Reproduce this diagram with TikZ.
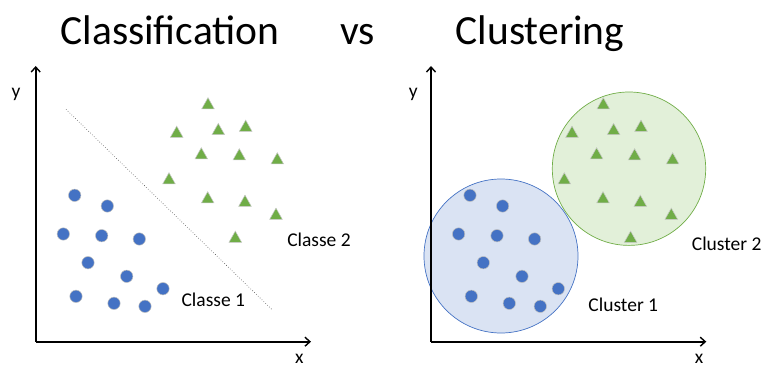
\documentclass[tikz,border=0pt]{standalone}
\usepackage{fontspec}
\setmainfont{Carlito}
\usetikzlibrary{arrows.meta}
\definecolor{dotblue}{HTML}{4472C4}
\definecolor{trigreen}{HTML}{70AD47}
\definecolor{blueFill}{HTML}{DAE3F3}
\definecolor{greenFill}{HTML}{E2F0D9}
\tikzset{
  axis/.style={line width=1.6pt,-{Straight Barb[length=5pt,width=9pt,line width=1.4pt]}},
  dotpt/.style={fill=dotblue,draw=white!75!black,line width=0.5pt},
  tript/.style={fill=trigreen,draw=white!78!black,line width=0.5pt},
  title/.style={font=\fontsize{41.5}{44}\selectfont,anchor=base,inner sep=0pt},
  lbl/.style={font=\fontsize{19.5}{22}\selectfont,anchor=base,inner sep=0pt},
}
\begin{document}
\begin{tikzpicture}[x=1pt,y=-1pt]
\useasboundingbox (0,0) rectangle (766,369);
% titles
\node[title] (t1) at (170,45) {Classification};
\node[title] (t2) at (357.5,45) {vs};
\node[title] (t3) at (540,45) {Clustering};
% right panel circles
\draw[draw=dotblue,fill=blueFill,line width=0.7pt] (501,256) circle (77);
\draw[draw=trigreen,fill=greenFill,line width=0.7pt] (629,168.7) circle (76.7);
% separating line
\draw[dotted,line width=0.6pt,black!70] (66,109.3) -- (271.7,309.3);
% axes
\foreach \dx in {0,395.3}{
  \begin{scope}[xshift=\dx pt]
    \coordinate (o) at (35.7,341.7);
    \coordinate (ye) at (35.7,66);
    \coordinate (xe) at (311,341.7);
    \draw[axis] (o) -- (ye);
    \draw[axis] (o) -- (xe);
    \foreach \p in {(74.7,195.3),(107.3,206),(63.3,234),(101.7,235.7),(139.3,239),(88,262.7),(126.7,276.3),(163,288.7),(76,296.3),(114,303.3),(145,306.3)}
      \fill[dotpt] \p circle (6.2);
    \foreach \x/\y in {208/103.3,176.7/131.7,218.3/129,245.7/125.7,201.3/153.3,239.3/154.3,277.3/158.3,169/178.3,207.7/197.3,245/200.7,276/213.7,235.3/236.7}
      \filldraw[tript] (\x-6.3,\y+5.6) -- (\x+6.3,\y+5.6) -- (\x,\y-5.6) -- cycle;
  \end{scope}
}
% axis labels
\node[lbl] (yl1) at (16,97) {y};
\node[lbl] (xl1) at (299.3,363.5) {x};
\node[lbl] (yl2) at (413.3,97) {y};
\node[lbl] (xl2) at (699,363.5) {x};
% class / cluster labels
\node[lbl] (c1) at (213.3,306) {Classe 1};
\node[lbl] (c2) at (319,246.7) {Classe 2};
\node[lbl] (k1) at (623.3,311.7) {Cluster 1};
\node[lbl] (k2) at (726.7,250.7) {Cluster 2};
\end{tikzpicture}
\end{document}
